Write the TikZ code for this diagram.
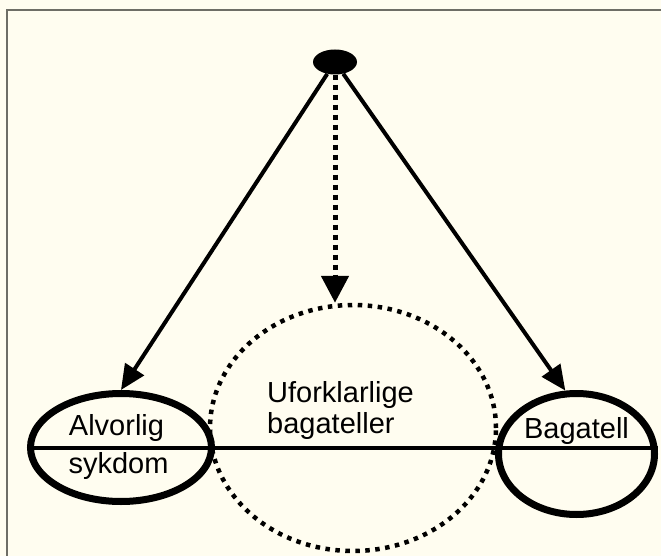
\documentclass[tikz,border=0pt]{standalone}
\usepackage{fontspec}
\setmainfont{Liberation Sans}
\usetikzlibrary{shapes.geometric,arrows.meta}
\definecolor{paper}{HTML}{FFFDF0}
\definecolor{framegray}{HTML}{6E6E66}

\begin{document}
\begin{tikzpicture}[x=1pt, y=-1pt,
        ring/.style={ellipse, draw, line width=7pt, inner sep=0pt},
        words/.style={font=\fontsize{29}{31}\selectfont, anchor=base, inner sep=0pt},
        pointer/.style={line width=4pt, -{Triangle[length=25pt,width=22pt]}},
        dotline/.style={line width=5pt, dash pattern=on 5pt off 5pt}]
        \useasboundingbox (0,0) rectangle (661,556);
        \fill [paper] (0,0) rectangle (661,556);
        \draw [framegray, line width=2pt] (7,600) -- (7,10) -- (700,10);
        % the ellipses
        \node [ellipse, fill, minimum width=44pt, minimum height=25pt, inner sep=0pt] (top) at (335,62) {};
        \node [ring, minimum width=181pt, minimum height=108pt] (sick) at (121,447.5) {};
        \node [ring, minimum width=156pt, minimum height=121pt] (trifle) at (576.5,454) {};
        \node [ellipse, draw, dotline, line width=4.5pt, dash pattern=on 4.5pt off 5.5pt,
            minimum width=286pt, minimum height=246pt, inner sep=0pt] (unknown) at (353,428) {};
        \draw [line width=4pt] (sick.west) -- (sick.west -| trifle.east);
        % texts
        \node [words] (alv) at (116.5,435) {Alvorlig};
        \node [words] (syk) at (118.5,473) {sykdom};
        \node [words] (bag) at (576.5,438) {Bagatell};
        \node [words, anchor=base west] (unex1) at (267,402) {Uforklarlige};
        \node [words, anchor=base west] (unex2) at (267,433) {bagateller};
        % arrows
        \draw [pointer] (top) -- (sick.north);
        \draw [pointer] (top) -- (trifle.100);
        \draw [dotline, -{Triangle[length=27pt,width=27pt]}] (top.south) -- (top.south |- unknown.north);
    \end{tikzpicture}
\end{document}
